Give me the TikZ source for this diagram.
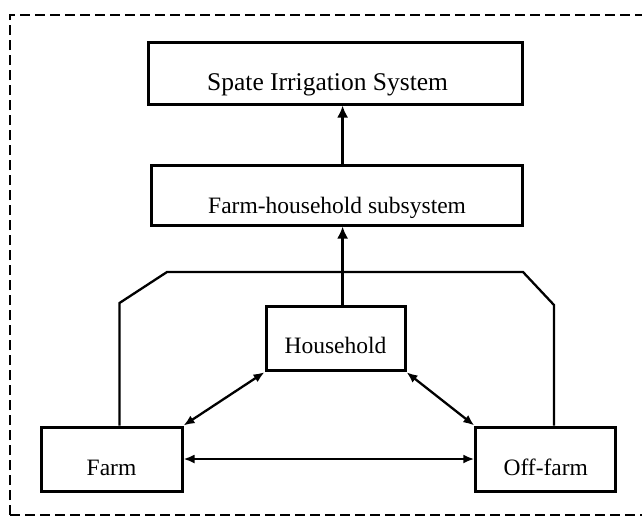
\documentclass[tikz,border=0pt]{standalone}
\usepackage{fontspec}
\setmainfont{Liberation Serif}
\usetikzlibrary{arrows.meta}
\begin{document}
\begin{tikzpicture}[x=1pt,y=-1pt,
  box/.style={draw, line width=3pt, rectangle, inner sep=0pt, text depth=0pt,
    font=\fontsize{23.5}{28}\selectfont},
  conn/.style={line width=2.3pt, line join=miter},
  arr/.style={conn, -{Latex[length=12pt,width=11pt]}},
  darr/.style={conn, {Latex[length=11pt,width=9pt]}-{Latex[length=11pt,width=9pt]}},
  frame/.style={line width=2.2pt, dash pattern=on 10pt off 5pt}]
\useasboundingbox (0,0) rectangle (642,520);
\draw[frame] (10,515) -- (10,15) -- (650,15);
\draw[frame] (10,515) -- (650,515);
% boxes
\node[box, minimum width=374pt, minimum height=62pt, text height=34pt,
  font=\fontsize{25.5}{30}\selectfont] (sis) at (335.6,73) {Spate Irrigation System\hspace*{16pt}};
\node[box, minimum width=371pt, minimum height=60pt, text height=36pt] (fhs) at (337.1,195) {Farm-household subsystem};
\node[box, minimum width=139pt, minimum height=64pt, text height=29pt] (hh) at (335.5,338.7) {Household};
\node[box, minimum width=141pt, minimum height=64pt, text height=32pt] (farm) at (111.5,459) {Farm};
\node[box, minimum width=140pt, minimum height=64pt, text height=32pt] (off) at (545.8,459) {Off-farm};
% helper coordinates
\coordinate (ax) at (342.6,0);
\coordinate (lx) at (119.5,0);
\coordinate (rx) at (554,0);
\coordinate (pl) at (119.5,303);
\coordinate (ptl) at (167,272);
\coordinate (ptr) at (523,272);
\coordinate (pr) at (554,305);
% enclosing polygon
\draw[conn] (lx |- farm.north) -- (pl) -- (ptl) -- (ptr) -- (pr) -- (rx |- off.north);
% arrows
\draw[arr] (ax |- fhs.north) -- (ax |- sis.south);
\draw[arr] (ax |- hh.north) -- (ax |- fhs.south);
\draw[darr] (hh.south west) -- (farm.north east);
\draw[darr] (hh.south east) -- (off.north west);
\draw[darr] (farm.east) -- (off.west);
\end{tikzpicture}
\end{document}
